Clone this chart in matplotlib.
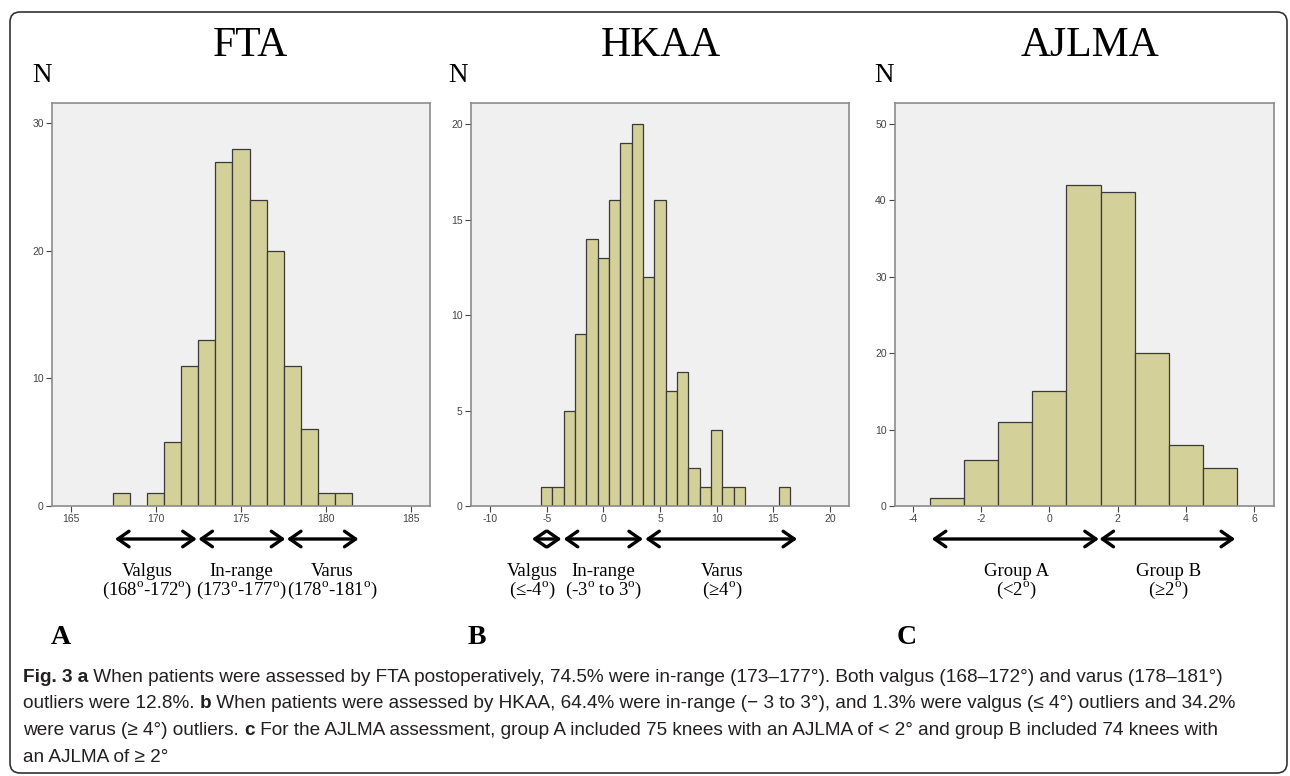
import matplotlib
matplotlib.use('Agg')
import matplotlib.pyplot as plt
import matplotlib.transforms as mtransforms
from matplotlib import font_manager
from matplotlib.patches import FancyBboxPatch

# counts per 1-degree bin
fta_centers = list(range(168, 182))
fta_counts = [1, 0, 1, 5, 11, 13, 27, 28, 24, 20, 11, 6, 1, 1]

hkaa_centers = list(range(-5, 17))
hkaa_counts = [1, 1, 5, 9, 14, 13, 16, 19, 20, 12, 16, 6, 7, 2, 1, 4, 1, 1, 0, 0, 0, 1]

ajlma_centers = list(range(-3, 6))
ajlma_counts = [1, 6, 11, 15, 42, 41, 20, 8, 5]

fta_xticks = [165, 170, 175, 180, 185]
fta_yticks = [0, 10, 20, 30]
hkaa_xticks = [-10, -5, 0, 5, 10, 15, 20]
hkaa_yticks = [0, 5, 10, 15, 20]
ajlma_xticks = [-4, -2, 0, 2, 4, 6]
ajlma_yticks = [0, 10, 20, 30, 40, 50]

titles = ['FTA', 'HKAA', 'AJLMA']
letters = ['A', 'B', 'C']

DEG = '$^{\\mathrm{o}}$'

# range arrows (data x) and their labels
fta_arrows = [(167.6, 172.4), (172.5, 177.6), (177.7, 181.9)]
fta_groups = ['Valgus', 'In-range', 'Varus']
fta_ranges = ['(168' + DEG + '-172' + DEG + ')', '(173' + DEG + '-177' + DEG + ')',
              '(178' + DEG + '-181' + DEG + ')']
fta_label_x = [169.5, 175.0, 180.35]

hkaa_arrows = [(-6.3, -3.7), (-3.5, 3.5), (3.7, 17.1)]
hkaa_groups = ['Valgus', 'In-range', 'Varus']
hkaa_ranges = ['(\u2264-4' + DEG + ')', '(-3' + DEG + ' to 3' + DEG + ')', '(\u22654' + DEG + ')']
hkaa_label_x = [-6.3, 0.0, 10.5]

ajlma_arrows = [(-3.45, 1.45), (1.47, 5.45)]
ajlma_groups = ['Group A', 'Group B']
ajlma_ranges = ['(<2' + DEG + ')', '(\u22652' + DEG + ')']
ajlma_label_x = [-0.96, 3.5]

caption = [
    [("Fig. 3 a", True), (" When patients were assessed by FTA postoperatively, 74.5% were in-range (173\u2013177\u00b0). Both valgus (168\u2013172\u00b0) and varus (178\u2013181\u00b0)", False)],
    [("outliers were 12.8%. ", False), ("b", True), (" When patients were assessed by HKAA, 64.4% were in-range (\u2212 3 to 3\u00b0), and 1.3% were valgus (\u2264 4\u00b0) outliers and 34.2%", False)],
    [("were varus (\u2265 4\u00b0) outliers. ", False), ("c", True), (" For the AJLMA assessment, group A included 75 knees with an AJLMA of < 2\u00b0 and group B included 74 knees with", False)],
    [("an AJLMA of \u2265 2\u00b0", False)],
]

names = {f.name for f in font_manager.fontManager.ttflist}
cap_font = 'Liberation Sans Narrow' if 'Liberation Sans Narrow' in names else 'Liberation Sans'
serif = ['Liberation Serif', 'DejaVu Serif']

plt.rcParams['font.family'] = ['Liberation Sans', 'DejaVu Sans']
plt.rcParams['mathtext.fontset'] = 'custom'
plt.rcParams['mathtext.rm'] = 'Liberation Serif'
plt.rcParams['axes.unicode_minus'] = False

W, H = 1290, 776
fig = plt.figure(figsize=(W / 100, H / 100), dpi=100)

def fy(y):
    return 1 - y / H

panels = [
    dict(c=fta_centers, n=fta_counts, xl=(163.9, 186.1), yt=31.6, xt=fta_xticks, ytk=fta_yticks,
         box=(52, 430), title_x=250, n_x=42, letter_x=61,
         arrows=fta_arrows, groups=fta_groups, ranges=fta_ranges, lx=fta_label_x),
    dict(c=hkaa_centers, n=hkaa_counts, xl=(-11.68, 21.68), yt=21.1, xt=hkaa_xticks, ytk=hkaa_yticks,
         box=(471, 849), title_x=661, n_x=458, letter_x=477,
         arrows=hkaa_arrows, groups=hkaa_groups, ranges=hkaa_ranges, lx=hkaa_label_x),
    dict(c=ajlma_centers, n=ajlma_counts, xl=(-4.53, 6.59), yt=52.7, xt=ajlma_xticks, ytk=ajlma_yticks,
         box=(895, 1274), title_x=1090, n_x=884, letter_x=907,
         arrows=ajlma_arrows, groups=ajlma_groups, ranges=ajlma_ranges, lx=ajlma_label_x),
]

top, bottom = 103, 506
for i, p in enumerate(panels):
    left, right = p['box']
    ax = fig.add_axes([left / W, fy(bottom), (right - left) / W, (bottom - top) / H])
    ax.set_facecolor('#f0f0f0')
    keep = [(c, n) for c, n in zip(p['c'], p['n']) if n > 0]
    ax.bar([c for c, _ in keep], [n for _, n in keep], width=1.0, color='#d4d09a',
           edgecolor='#3a3a3a', linewidth=0.9, zorder=2)
    ax.set_xlim(*p['xl'])
    ax.set_ylim(0, p['yt'])
    ax.set_xticks(p['xt'])
    ax.set_yticks(p['ytk'])
    ax.tick_params(labelsize=7.5, colors='#444444', length=4, width=0.8, pad=2)
    for s in ax.spines.values():
        s.set_color('#8c8c8c')
        s.set_linewidth(1.2)

    fig.text(p['title_x'] / W, fy(46), titles[i], family=serif, fontsize=30, ha='center', va='center')
    fig.text(p['n_x'] / W, fy(76), 'N', family=serif, fontsize=19.5, ha='center', va='center')
    fig.text(p['letter_x'] / W, fy(637), letters[i], family=serif, fontsize=20, fontweight='bold',
             ha='center', va='center')

    blend = mtransforms.blended_transform_factory(ax.transData, fig.transFigure)
    for x0, x1 in p['arrows']:
        ax.annotate('', xy=(x1, fy(539)), xytext=(x0, fy(539)), xycoords=blend, textcoords=blend,
                    annotation_clip=False,
                    arrowprops=dict(arrowstyle='<->,head_length=0.4,head_width=0.28', lw=2.4,
                                    color='black', shrinkA=0, shrinkB=0, mutation_scale=20))
    for x, g, r in zip(p['lx'], p['groups'], p['ranges']):
        ax.text(x, fy(571), g, transform=blend, family=serif, fontsize=13.5, ha='center', va='center')
        ax.text(x, fy(590), r, transform=blend, family=serif, fontsize=13.5, ha='center', va='center')

# outer rounded frame, in pixels
frame = FancyBboxPatch((10, 3), 1277, 761, boxstyle='round,pad=0,rounding_size=10',
                       transform=mtransforms.IdentityTransform(), fill=False,
                       edgecolor='#333333', linewidth=1.2)
fig.add_artist(frame)

# caption: size chosen so the first line spans like the original
renderer = fig.canvas.get_renderer()
probe = fig.text(0, 0, ''.join(t for t, _ in caption[0]), fontsize=12, family=cap_font)
cap_size = 12 * 1200 / probe.get_window_extent(renderer).width
probe.remove()

for k, line in enumerate(caption):
    x = 23
    y = fy(677 + k * 26.7)
    for txt, bold in line:
        t = fig.text(x / W, y, txt, fontsize=cap_size, family=cap_font,
                     fontweight='bold' if bold else 'normal', color='#231f20', ha='left', va='center')
        x += t.get_window_extent(renderer).width

fig.savefig('out.png', dpi=100)
